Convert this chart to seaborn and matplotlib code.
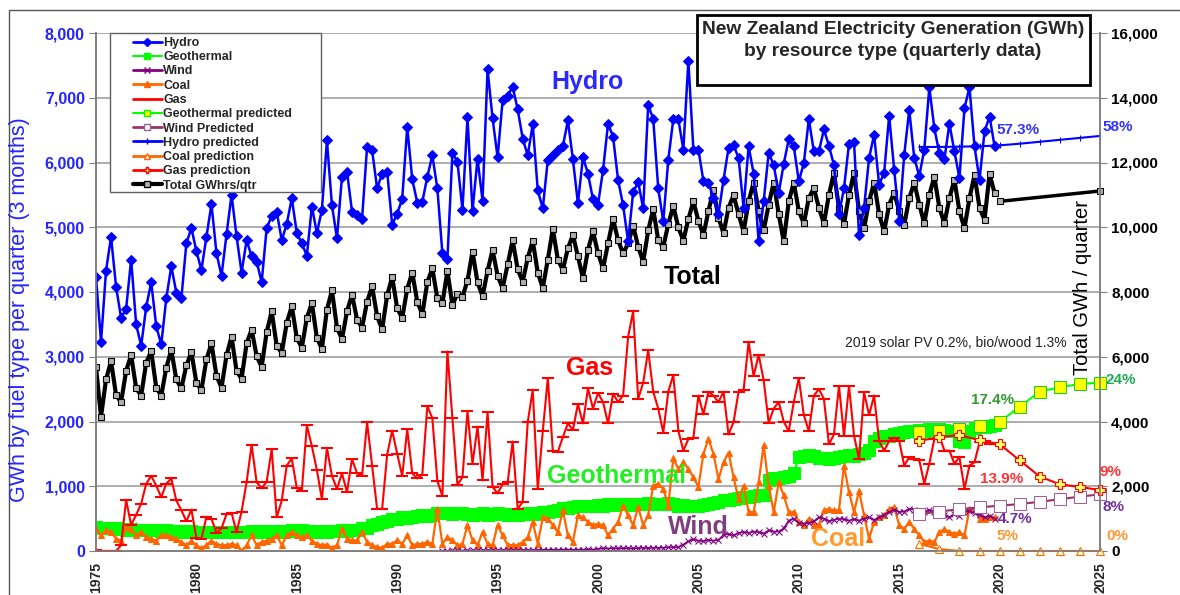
import numpy as np
import pandas as pd
import matplotlib
matplotlib.use("Agg")
import matplotlib.pyplot as plt
from matplotlib.lines import Line2D
from matplotlib.patches import Rectangle
import seaborn as sns

# quarterly data 1975 Q1 .. 2019 Q4 (GWh per quarter), one row per year
hydro = [
    4230, 3230, 4330, 4850,  4080, 3600, 3740, 4500,  3500, 3170, 3770, 4150,
    3470, 3190, 3900, 4400,  3990, 3900, 4750, 4990,  4630, 4340, 4850, 5360,
    4600, 4250, 4890, 5500,  4860, 4300, 4800, 4550,  4470, 4150, 4990, 5170,
    5240, 4800, 5050, 5450,  4910, 4750, 4560, 5320,  4910, 5270, 6340, 5340,
    4830, 5780, 5860, 5240,  5190, 5130, 6240, 6190,  5600, 5830, 5860, 5040,
    5210, 5440, 6550, 5740,  5380, 5390, 5780, 6110,  5600, 4600, 4510, 6150,
    6010, 5270, 6700, 5250,  6060, 5410, 7440, 6680,  6080, 6960, 7030, 7170,
    6820, 6370, 6110, 6590,  5570, 5290, 6040, 6110,  6200, 6250, 6650, 6050,
    5370, 6080, 5830, 5430,  5350, 5880, 6600, 6400,  5730, 5340, 4780, 5540,
    5700, 5290, 6890, 6670,  5600, 5090, 6040, 6670,  6670, 6200, 7570, 6200,
    6200, 5710, 5690, 5450,  5200, 5730, 6220, 6270,  6070, 5300, 6250, 5830,
    4780, 5400, 6150, 5960,  5530, 5980, 6360, 6250,  5710, 5990, 6670, 6170,
    6170, 6510, 6260, 5960,  5200, 5600, 6290, 6310,  4880, 5300, 6070, 6430,
    5660, 5840, 6720, 5890,  5100, 6120, 6810, 6070,  5790, 6200, 7160, 6530,
    6140, 6050, 6600, 6170,  5760, 6840, 7160, 6250,  5730, 6480, 6710, 6250,
]

total = [
    5680, 4150, 5300, 5870,  4810, 4600, 5560, 6050,  5030, 4800, 5820, 6170,
    5050, 4800, 5660, 6210,  5300, 5020, 5730, 6140,  5200, 4970, 5920, 6410,
    5410, 5050, 6040, 6620,  5560, 5320, 6410, 6840,  6020, 5690, 6760, 7400,
    6330, 6120, 7050, 7560,  6580, 6280, 7200, 7660,  6580, 6250, 7450, 8050,
    6900, 6550, 7400, 7920,  7150, 6900, 7700, 8170,  7250, 6850, 7900, 8460,
    7500, 7200, 8100, 8600,  7700, 7310, 8300, 8730,  7800, 7650, 8650, 7600,
    7950, 7850, 8350, 9250,  8300, 7870, 8650, 9300,  8500, 8120, 8850, 9600,
    8700, 8320, 9050, 9580,  8600, 8120, 9000, 9950,  9000, 8680, 9350, 9760,
    9100, 8430, 9300, 9870,  9200, 8730, 9500, 10250,  9600, 9190, 9500, 10050,
    9400, 8930, 9900, 10560,  9600, 9390, 10100, 10650,  10000, 9590, 10250, 10800,
    10200, 9760, 10500, 11150,  10300, 9810, 10600, 10990,  10400, 9870, 10800, 11380,
    10500, 9900, 10700, 11380,  10400, 9560, 10800, 11380,  10500, 10120, 10900, 11210,
    10600, 10120, 11000, 11680,  10600, 10100, 11000, 11680,  10500, 9970, 10800, 11380,
    10400, 9870, 10700, 11070,  10500, 10070, 10900, 11380,  10700, 10120, 11000, 11560,
    10600, 10120, 10900, 11460,  10500, 9970, 10900, 11610,  10600, 10230, 11650, 11050,
]

gas = [
    20, 0, 0, 0,  0, 90, 790, 400,  560, 730, 1040, 1160,  1010, 830, 1040, 1120,
    780, 630, 460, 640,  200, 190, 530, 500,  280, 350, 570, 590,  290, 610, 1060, 1640,
    1060, 970, 1070, 1570,  520, 780, 1320, 1430,  970, 930, 1940, 1620,
    1250, 800, 1590, 1160,  960, 1200, 910, 1420,  1200, 1160, 1990, 1320,
    650, 650, 1490, 1860,  1500, 1160, 1880, 1200,  1120, 1180, 2240, 2050,
    1080, 850, 3080, 2060,  1020, 1140, 2160, 1350,  1920, 1090, 2140, 990,
    890, 1030, 1060, 1690,  650, 760, 1990, 2490,  960, 1850, 2670, 1550,
    1530, 1760, 1970, 1870,  2270, 1970, 2510, 2200,  2440, 2300, 1970, 2430,
    2300, 2400, 3310, 3700,  2350, 2600, 3100, 2460,  2200, 1830, 2460, 2720,
    1860, 1550, 1730, 1750,  2400, 2110, 2460, 2400,  2300, 2460, 1800, 1990,
    2460, 2480, 3230, 2700,  3030, 2640, 1980, 2200,  2300, 2000, 1850, 2300,
    2670, 2100, 1850, 2400,  2500, 2350, 1650, 1800,  2550, 1780, 2550, 1780,
    1420, 2450, 2100, 2400,  1700, 1550, 1700, 1750,  1700, 1320, 1450, 1420,
    1400, 1040, 1350, 1730,  1780, 1550, 1550, 1350,  1450, 960, 1320, 1370,
    1680, 1700, 1650, 1660,
]

geothermal = [
    370, 360, 350, 360,  350, 340, 330, 340,  330, 320, 330, 320,  320, 310, 320, 310,
    300, 310, 300, 310,  300, 290, 300, 290,  290, 300, 290, 300,  300, 290, 300, 310,
    300, 310, 300, 310,  310, 300, 310, 320,  310, 320, 300, 310,  300, 310, 300, 310,
    310, 320, 310, 320,  330, 350, 360, 400,  420, 450, 470, 490,  500, 520, 510, 530,
    540, 550, 540, 560,  580, 590, 580, 570,  580, 590, 570, 560,  570, 580, 560, 570,
    580, 570, 560, 570,  560, 570, 580, 570,  580, 600, 610, 620,  640, 660, 670, 680,
    690, 700, 690, 700,  710, 700, 720, 710,  720, 730, 720, 710,  720, 730, 740, 730,
    720, 730, 740, 720,  700, 710, 690, 700,  700, 710, 720, 740,  760, 780, 790, 800,
    820, 830, 840, 850,  860, 870, 1100, 1120,  1130, 1150, 1160, 1200,
    1450, 1470, 1480, 1460,  1440, 1430, 1420, 1440,  1450, 1460, 1480, 1470,
    1500, 1520, 1560, 1700,  1740, 1770, 1780, 1800,  1820, 1840, 1850, 1860,
    1870, 1860, 1880, 1870,  1880, 1870, 1850, 1860,  1700, 1680, 1850, 1900,
    1920, 1910, 1930, 1940,
]

coal = [
    340, 240, 320, 290,  190, 160, 370, 340,  240, 290, 215, 190,  160, 240, 240, 215,
    190, 140, 90, 160,  90, 40, 90, 160,  110, 90, 90, 110,  90, 0, 90, 240,
    90, 140, 160, 190,  240, 90, 240, 290,  240, 215, 240, 160,  110, 90, 100, 50,
    90, 345, 190, 165,  165, 290, 140, 90,  60, 50, 110, 110,  165, 110, 240, 90,
    110, 110, 140, 110,  650, 110, 215, 165,  90, 110, 400, 165,  90, 290, 110, 90,
    400, 240, 90, 90,  90, 140, 215, 450,  110, 520, 500, 400,  290, 630, 240, 140,
    550, 520, 450, 400,  420, 400, 240, 345,  450, 700, 550, 400,  680, 400, 550, 1010,
    1040, 960, 700, 1430,  1270, 1370, 1270, 1140,  990, 1500, 1730, 1500,
    1110, 1370, 1520, 1140,  800, 1010, 600, 600,  1060, 1630, 1010, 600,
    1060, 860, 600, 600,  450, 400, 500, 400,  400, 630, 650, 630,  630, 1320, 910, 600,
    930, 550, 190, 450,  520, 550, 650, 680,  400, 340, 450, 340,  240, 140, 160, 140,
    290, 340, 290, 270,  290, 240, 650, 650,  500, 500, 520, 520,
]

# wind generation only starts in 1992 Q2
wind = [np.nan] * 69 + [
    5, 5, 8,  8, 6, 8, 10,  8, 10, 12, 10,  10, 12, 10, 14,  12, 14, 15, 12,
    15, 18, 16, 20,  18, 20, 22, 18,  20, 22, 25, 22,  35, 40, 38, 42,  40, 45, 42, 40,
    45, 48, 44, 50,  48, 52, 55, 60,  60, 100, 150, 180,  160, 150, 170, 160,
    170, 250, 260, 240,  280, 290, 280, 300,  290, 270, 320, 300,  300, 350, 470, 500,
    430, 420, 430, 460,  520, 500, 460, 480,  500, 490, 470, 490,  470, 500, 520, 480,
    520, 560, 600, 640,  600, 610, 650, 640,  620, 600, 630, 600,  600, 560, 520, 570,
    540, 600, 620, 580,  560, 520, 540, 500,
]

# annual predictions 2016 .. 2025
pred_years = list(range(2016, 2026))
geo_pred = [1840, 1860, 1880, 1930, 1990, 2230, 2460, 2530, 2580, 2600]
gas_pred = [1700, 1760, 1790, 1710, 1650, 1400, 1150, 1030, 990, 940]
wind_pred = [570, 610, 645, 675, 700, 725, 760, 800, 840, 875]
hydro_pred = [6240, 6240, 6245, 6250, 6265, 6290, 6320, 6350, 6380, 6410]
coal_pred = [110, 30, 0, 0, 0, 0, 0, 0, 0, 0]
total_pred_years = [2020, 2025]
total_pred = [10800, 11120]

quarters = 1975 + np.arange(len(hydro)) / 4
df = pd.DataFrame({"t": quarters, "Hydro": hydro, "Total": total, "Gas": gas,
                   "Geothermal": geothermal, "Coal": coal, "Wind": wind})
pred = pd.DataFrame({"year": pred_years, "geo": geo_pred, "gas": gas_pred,
                     "wind": wind_pred, "hydro": hydro_pred, "coal": coal_pred})

sns.set_style("white")
plt.rcParams["font.family"] = ["Liberation Sans", "DejaVu Sans"]

BLUE = "#0000ff"
GREEN = "#00ff00"
PURPLE = "#800080"
ORANGE = "#ff6600"
RED = "#ff0000"
MAUVE = "#993366"

W, H = 1180, 595
fig = plt.figure(figsize=(W / 100, H / 100), dpi=100)
ax = fig.add_axes([96 / W, 1 - 551 / H, 1004 / W, 518 / H])
ax2 = ax.twinx()
ax.set_zorder(ax2.get_zorder() + 1)
ax.patch.set_visible(False)

# total on the right axis
sns.lineplot(data=df, x="t", y="Total", ax=ax2, color="black", linewidth=3,
             marker="s", markersize=5, markerfacecolor="#b0b0b0",
             markeredgecolor="black", markeredgewidth=0.8)
sns.lineplot(x=total_pred_years, y=total_pred, ax=ax2, color="black", linewidth=2.5,
             marker="s", markersize=5, markerfacecolor="#b0b0b0", markeredgecolor="black",
             clip_on=False)

# fuel types on the left axis
sns.lineplot(data=df, x="t", y="Geothermal", ax=ax, color=GREEN, linewidth=1.5,
             marker="s", markersize=8, markeredgecolor=GREEN)
sns.lineplot(data=df, x="t", y="Coal", ax=ax, color=ORANGE, linewidth=1.6,
             marker="^", markersize=5, markeredgecolor=ORANGE)
sns.lineplot(data=df, x="t", y="Wind", ax=ax, color=PURPLE, linewidth=1.2,
             marker="x", markersize=4, markeredgecolor=PURPLE)
sns.lineplot(data=df, x="t", y="Gas", ax=ax, color=RED, linewidth=1.5,
             marker="_", markersize=8, markeredgewidth=1.5, markeredgecolor=RED)
sns.lineplot(data=df, x="t", y="Hydro", ax=ax, color=BLUE, linewidth=1.8,
             marker="D", markersize=5, markeredgecolor=BLUE)

# predictions
sns.lineplot(data=pred, x="year", y="hydro", ax=ax, color=BLUE, linewidth=1.5,
             marker="|", markersize=4, markeredgecolor=BLUE, clip_on=False)
sns.lineplot(data=pred, x="year", y="geo", ax=ax, color=GREEN, linewidth=1.5,
             marker="s", markersize=8, markerfacecolor="#ffff00", markeredgecolor="#22cc22",
             clip_on=False)
sns.lineplot(data=pred, x="year", y="wind", ax=ax, color=MAUVE, linewidth=1.5,
             marker="s", markersize=8, markerfacecolor="white", markeredgecolor="#a0609a",
             clip_on=False)
sns.lineplot(data=pred, x="year", y="gas", ax=ax, color=RED, linewidth=1.5,
             marker="P", markersize=7, markerfacecolor="#ffff66", markeredgecolor=RED,
             markeredgewidth=0.8, clip_on=False)
sns.lineplot(data=pred, x="year", y="coal", ax=ax, color=ORANGE, linewidth=1.5,
             marker="^", markersize=6, markerfacecolor="#ffffcc", markeredgecolor=ORANGE,
             clip_on=False)

# axes
ax.set_xlim(1975, 2025)
ax.set_ylim(0, 8000)
ax2.set_ylim(0, 16000)
ax.set_xticks(range(1975, 2026, 5))
ax.set_xticklabels([str(y) for y in range(1975, 2026, 5)], rotation=90,
                   fontsize=10, fontweight="bold")
ax.set_yticks(range(0, 8001, 1000))
ax.set_yticklabels([f"{v:,}" for v in range(0, 8001, 1000)], fontsize=11.5,
                   fontweight="bold", color="#2424ff")
ax2.set_yticks(range(0, 16001, 2000))
ax2.set_yticklabels([f"{v:,}" for v in range(0, 16001, 2000)], fontsize=11,
                    fontweight="bold", color="black")
ax.tick_params(axis="both", direction="out", length=5, color="#808080", pad=3)
ax2.tick_params(axis="y", direction="out", length=5, color="#808080", pad=3)
ax.set_xlabel("")
ax.set_ylabel("")
ax2.set_ylabel("")
ax2.yaxis.grid(True, color="#a0a0a0", linewidth=1.2)
ax.grid(False)
for a in (ax, ax2):
    for side in ("left", "right", "bottom"):
        a.spines[side].set_color("#808080")
        a.spines[side].set_linewidth(1.2)
    a.spines["top"].set_visible(False)

fig.text(20 / W, 1 - 310 / H, "GWh by fuel type per quarter (3 months)",
         rotation=90, ha="center", va="center", fontsize=15.5, color="#2424ff")
fig.text(1083 / W, 1 - 287 / H, "Total GWh / quarter", rotation=90,
         ha="center", va="center", fontsize=14.5, color="black")

# in-plot labels
big = dict(fontsize=18, fontweight="bold", ha="center", va="center")
ax.text(1999.5, 7240, "Hydro", color="#2a2aff", **big)
ax.text(2004.7, 4230, "Total", color="black", **big)
ax.text(1999.6, 2830, "Gas", color=RED, **big)
ax.text(2000.9, 1160, "Geothermal", color="#22ee22", **big)
ax.text(2005.0, 370, "Wind", color="#7f3f7f", **big)
ax.text(2011.95, 185, "Coal", color="#ff9a2e", **big)

small = dict(fontsize=11, fontweight="bold", ha="center", va="center", clip_on=False)
ax.text(2020.9, 6500, "57.3%", color="#3333ff", **small)
ax.text(2025.9, 6550, "58%", color="#3333ff", **small)
ax.text(2019.67, 2330, "17.4%", color="#339933", **small)
ax.text(2026.05, 2640, "24%", color="#22aa55", **small)
ax.text(2020.1, 1110, "13.9%", color="#ff3333", **small)
ax.text(2025.5, 1220, "9%", color="#ff3333", **small)
ax.text(2025.65, 680, "8%", color="#7030a0", **small)
ax.text(2020.77, 495, "4.7%", color="#7030a0", **small)
ax.text(2020.37, 232, "5%", color="#ff9933", **small)
ax.text(2025.85, 232, "0%", color="#ff9933", **small)
ax.text(2017.83, 3210, "2019 solar PV 0.2%, bio/wood 1.3%", fontsize=10,
        color="#222222", ha="center", va="center")

# legend (frame drawn separately to match the wide left margin)
handles = [
    Line2D([], [], color=BLUE, marker="D", markersize=4, lw=2),
    Line2D([], [], color=GREEN, marker="s", markersize=5, lw=1.5),
    Line2D([], [], color=PURPLE, marker="x", markersize=4, lw=2),
    Line2D([], [], color=ORANGE, marker="^", markersize=5, lw=2),
    Line2D([], [], color=RED, lw=2),
    Line2D([], [], color=GREEN, marker="s", markersize=5, markerfacecolor="#ffff00", lw=1.5),
    Line2D([], [], color=MAUVE, marker="s", markersize=5, markerfacecolor="white",
           markeredgecolor="#a0609a", lw=2),
    Line2D([], [], color=BLUE, marker="|", markersize=4, lw=2),
    Line2D([], [], color=ORANGE, marker="^", markersize=5, markerfacecolor="white", lw=2),
    Line2D([], [], color=RED, marker="P", markersize=5, markerfacecolor="#ffff66", lw=2),
    Line2D([], [], color="black", marker="s", markersize=4, markerfacecolor="#b0b0b0", lw=3),
]
labels = ["Hydro", "Geothermal", "Wind", "Coal", "Gas", "Geothermal predicted",
          "Wind Predicted", "Hydro predicted", "Coal prediction", "Gas prediction",
          "Total GWhrs/qtr"]
legend_box = Rectangle((110 / W, 1 - 192 / H), 211 / W, 159 / H,
                       transform=fig.transFigure, facecolor="white",
                       edgecolor="#606060", linewidth=1.0, zorder=19, clip_on=False)
ax.add_patch(legend_box)
leg = ax.legend(handles, labels, loc="upper left",
                bbox_to_anchor=(133 / W, 1 - 37 / H), bbox_transform=fig.transFigure,
                borderaxespad=0, prop={"weight": "bold", "size": 9},
                frameon=False, labelspacing=0.18, handlelength=2.3,
                handletextpad=0.1, borderpad=0)
leg.set_zorder(20)

# title box
fig.add_artist(Rectangle((697 / W, 1 - 85 / H), 393 / W, 70 / H,
                         transform=fig.transFigure, facecolor="white",
                         edgecolor="black", linewidth=2, zorder=30))
fig.text(893 / W, 1 - 29 / H, "New Zealand Electricity Generation (GWh)",
         ha="center", va="center", fontsize=13.8, fontweight="bold", zorder=31)
fig.text(893 / W, 1 - 52 / H, "by resource type (quarterly data)",
         ha="center", va="center", fontsize=13.8, fontweight="bold", zorder=31)

# chart area border
fig.add_artist(Rectangle((9 / W, -0.1), 1.2, 1.1 - 10 / H,
                         transform=fig.transFigure, fill=False,
                         edgecolor="#555555", linewidth=1))

fig.savefig("out.png", dpi=100)
